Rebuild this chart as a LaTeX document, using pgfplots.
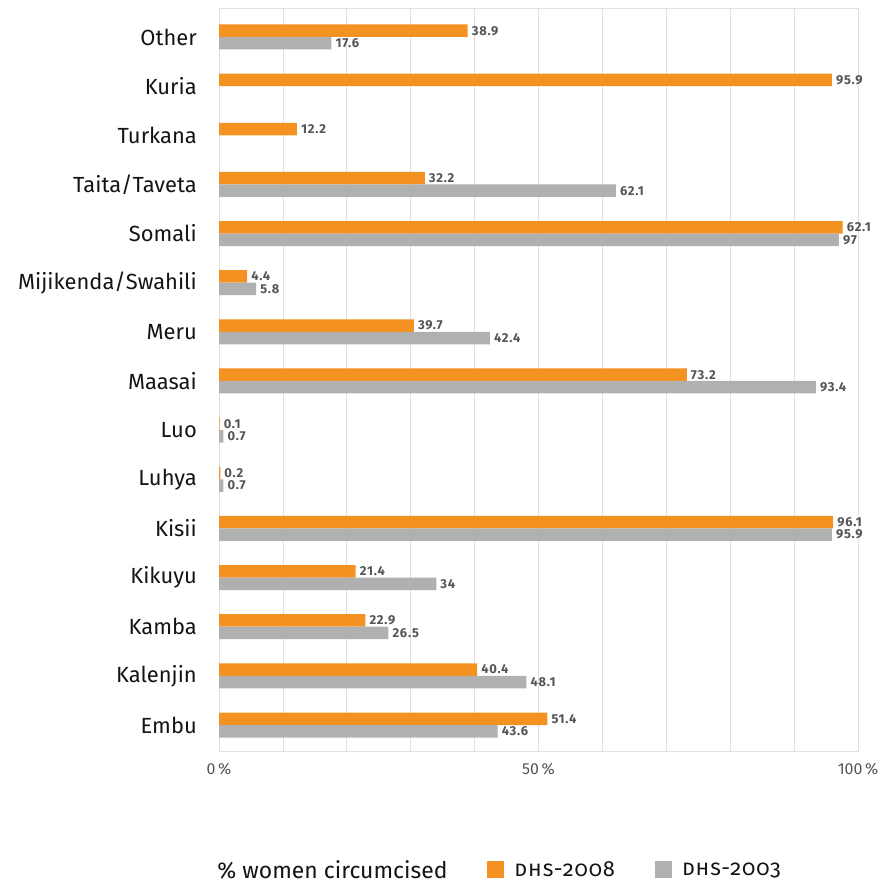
\documentclass[border=0pt]{standalone}
\usepackage{fontspec}
\setmainfont{Fira Sans}
\newfontfamily\scfont[Numbers=OldStyle,LetterSpace=4]{Fira Sans}
\newfontfamily\lblfont[LetterSpace=6]{Fira Sans}
\usepackage{pgfplots}
\pgfplotsset{compat=1.18}
\definecolor{dhsorange}{RGB}{243,146,33}
\definecolor{dhsgray}{RGB}{176,176,176}
\definecolor{gridgray}{RGB}{224,224,224}
\definecolor{lblgray}{RGB}{85,85,85}
\definecolor{txtdark}{RGB}{20,20,20}
\begin{document}
\begin{tikzpicture}
\useasboundingbox (0,0) rectangle (883bp,885bp);
\begin{axis}[
  at={(219bp,134bp)}, anchor=south west,
  scale only axis, width=639bp, height=743bp,
  xbar, bar width=12.5bp,
  xmin=0, xmax=100, ymin=-0.529, ymax=14.59,
  xtick={0,10,...,100},
  xticklabels={0\,\%,,,,,50\,\%,,,,,100\,\%},
  ytick={0,...,14},
  yticklabels={Embu,Kalenjin,Kamba,Kikuyu,Kisii,Luhya,Luo,Maasai,Meru,Mijikenda/Swahili,Somali,Taita/Taveta,Turkana,Kuria,Other},
  xmajorgrids, major grid style={gridgray, line width=0.8pt},
  axis line style={gridgray, line width=0.8pt},
  major tick length=0pt, tick style={draw=none},
  yticklabel style={font=\fontsize{22}{24}\selectfont, text=txtdark, inner sep=0pt, xshift=-22bp},
  xticklabel style={font=\fontsize{16}{17}\selectfont, text=lblgray, yshift=-9bp},
  point meta=explicit symbolic,
  nodes near coords,
  nodes near coords style={font=\lblfont\bfseries\fontsize{13}{14}\selectfont, text=lblgray, anchor=west, inner xsep=4bp},
  legend columns=3,
  legend image code/.code={\fill[#1] (0bp,-8.5bp) rectangle (17bp,8.5bp);},
  legend style={at={(axis description cs:-0.023,-0.160)}, anchor=west, draw=none, fill=none,
    text=txtdark,
    /tikz/every odd column/.append style={column sep=8bp},
    /tikz/every even column/.append style={column sep=38bp}},
  legend entries={{\fontsize{23}{24}\selectfont\% women circumcised},{\scfont\scshape\fontsize{22}{24}\selectfont dhs-2008},{\scfont\scshape\fontsize{22}{24}\selectfont dhs-2003}},
]
\addlegendimage{empty legend}
\addplot[draw=none, fill=dhsorange, bar shift=6.25bp] coordinates {
  (51.4,0) [51.4] (40.4,1) [40.4] (22.9,2) [22.9] (21.4,3) [21.4] (96.1,4) [96.1]
  (0.2,5) [0.2] (0.1,6) [0.1] (73.2,7) [73.2] (30.5,8) [39.7] (4.4,9) [4.4]
  (97.6,10) [62.1] (32.2,11) [32.2] (12.2,12) [12.2] (95.9,13) [95.9] (38.9,14) [38.9]
};
\addplot[draw=none, fill=dhsgray, bar shift=-6.25bp] coordinates {
  (43.6,0) [43.6] (48.1,1) [48.1] (26.5,2) [26.5] (34,3) [34] (95.9,4) [95.9]
  (0.7,5) [0.7] (0.7,6) [0.7] (93.4,7) [93.4] (42.4,8) [42.4] (5.8,9) [5.8]
  (97,10) [97] (62.1,11) [62.1] (17.6,14) [17.6]
};
\end{axis}
\end{tikzpicture}
\end{document}
